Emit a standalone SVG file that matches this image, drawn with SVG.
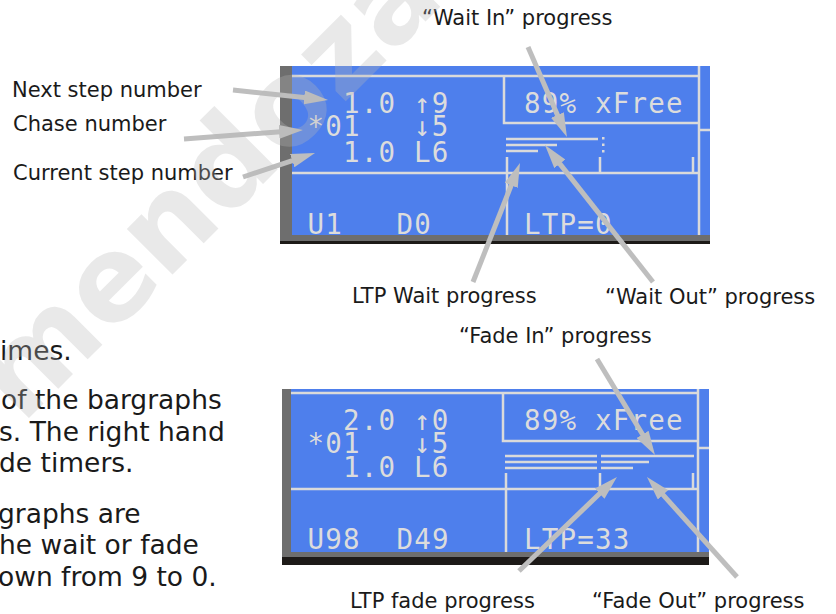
<svg xmlns="http://www.w3.org/2000/svg" width="836" height="614" viewBox="0 0 836 614">
<style>
.lbl{font-family:"DejaVu Sans","Liberation Sans",sans-serif;font-size:21px;fill:#1a1a1a}
.body{font-family:"DejaVu Sans","Liberation Sans",sans-serif;font-size:26.5px;fill:#1a1a1a}
.lcd{font-family:"DejaVu Sans Mono","Liberation Mono",monospace;font-size:27.5px;letter-spacing:1.2px;fill:#dcdcdc}
.ln{stroke:#dadada;stroke-width:2.5;fill:none}
.blue{fill:#4e7fec}
.strip{fill:#6e6e6e}
.black{fill:#1d1a18}
.arr{stroke:#bebebe;stroke-width:5;fill:none;marker-end:url(#ah)}
.wm{font-family:"DejaVu Sans","Liberation Sans",sans-serif;font-weight:bold;font-size:118px;fill:#b8b8b8;opacity:0.3}
</style>
<defs>
<marker id="ah" markerUnits="userSpaceOnUse" markerWidth="26" markerHeight="14" refX="12" refY="7" orient="auto">
<path d="M0,0 L24,7 L0,14 Z" fill="#bebebe"/>
</marker>
</defs>
<rect width="836" height="614" fill="#ffffff"/>

<g id="body-text">
<text class="body" x="0" y="360">imes.</text>
<text class="body" x="1" y="409">of the bargraphs</text>
<text class="body" x="-1" y="441">s. The right hand</text>
<text class="body" x="-1" y="472">de timers.</text>
<text class="body" x="-2" y="523">graphs are</text>
<text class="body" x="-1" y="554">he wait or fade</text>
<text class="body" x="-2" y="586">own from 9 to 0.</text>
</g>

<g id="screen1">
<rect class="strip" x="280" y="66" width="12" height="175"/>
<rect class="blue" x="292" y="66" width="418" height="169"/>
<rect class="strip" x="280" y="235" width="430" height="6"/>
<rect class="black" x="280" y="241" width="430" height="3"/>
<path class="ln" d="M292,76 H699 M504,76 V123 H699 M699,66 V235 M699,130 H710 M292,173 H699 M507,157 V235 M600,157 V173 M693,157 V173 M506,139 H598 M506,145 H557 M506,151 H538"/>
<rect x="602" y="137" width="2.5" height="2.5" fill="#dadada"/>
<rect x="602" y="143.5" width="2.5" height="2.5" fill="#dadada"/>
<rect x="602" y="150" width="2.5" height="2.5" fill="#dadada"/>
<text class="lcd" x="343" y="113">1.0</text>
<text class="lcd" x="414" y="113">↑9</text>
<text class="lcd" x="307.5" y="136">*01</text>
<text class="lcd" x="414" y="136">↓5</text>
<text class="lcd" x="343" y="162">1.0</text>
<text class="lcd" x="414" y="162">L6</text>
<text class="lcd" x="524" y="113">89% xFree</text>
<text class="lcd" x="307.5" y="234">U1</text>
<text class="lcd" x="396.5" y="234">D0</text>
<text class="lcd" x="524" y="234">LTP=0</text>
</g>

<g id="screen2">
<rect class="strip" x="282" y="389" width="9" height="168"/>
<rect class="blue" x="291" y="389" width="418" height="163"/>
<rect class="strip" x="282" y="552" width="427" height="5"/>
<rect class="black" x="282" y="557" width="427" height="8"/>
<path class="ln" d="M291,393 H698 M503,393 V441 H698 M698,389 V552 M698,448 H709 M291,489 H698 M506,473 V552 M600,473 V488 M693,473 V488 M505,456 H597 M601,456 H694 M505,462 H597 M601,462 H649 M505,468 H597 M601,468 H633"/>
<text class="lcd" x="343" y="430">2.0</text>
<text class="lcd" x="414" y="430">↑0</text>
<text class="lcd" x="307.5" y="453">*01</text>
<text class="lcd" x="414" y="453">↓5</text>
<text class="lcd" x="343" y="477">1.0</text>
<text class="lcd" x="414" y="477">L6</text>
<text class="lcd" x="524" y="430">89% xFree</text>
<text class="lcd" x="307.5" y="549">U98</text>
<text class="lcd" x="396.5" y="549">D49</text>
<text class="lcd" x="524" y="549">LTP=33</text>
</g>

<g id="label-next"><text class="lbl" x="12" y="97">Next step number</text></g>
<g id="label-chase"><text class="lbl" x="13" y="131">Chase number</text></g>
<g id="label-current"><text class="lbl" x="13" y="180">Current step number</text></g>
<g id="label-waitin"><text class="lbl" x="422" y="25">“Wait In” progress</text></g>
<g id="label-ltpwait"><text class="lbl" x="352" y="303">LTP Wait progress</text></g>
<g id="label-waitout"><text class="lbl" x="605" y="304">“Wait Out” progress</text></g>
<g id="label-fadein"><text class="lbl" x="459" y="343">“Fade In” progress</text></g>
<g id="label-ltpfade"><text class="lbl" x="350" y="608">LTP fade progress</text></g>
<g id="label-fadeout"><text class="lbl" x="592" y="608">“Fade Out” progress</text></g>

<g id="connectors">
<line class="arr" x1="233" y1="90" x2="316.1" y2="98.7"/>
<line class="arr" x1="184" y1="139" x2="291" y2="130.9"/>
<line class="arr" x1="243" y1="177" x2="303.6" y2="156.8"/>
<line class="arr" x1="528" y1="47" x2="562.2" y2="126"/>
<line class="arr" x1="473" y1="282" x2="515.6" y2="174.2"/>
<line class="arr" x1="653" y1="282" x2="552.4" y2="154.4"/>
<line class="arr" x1="597" y1="359" x2="648.8" y2="444.7"/>
<line class="arr" x1="519" y1="571" x2="608.3" y2="485.3"/>
<line class="arr" x1="737" y1="577" x2="655" y2="485.9"/>
</g>

<g id="watermark">
<text class="wm" transform="translate(22,425) rotate(-45)">mendoza</text>
</g>
</svg>
